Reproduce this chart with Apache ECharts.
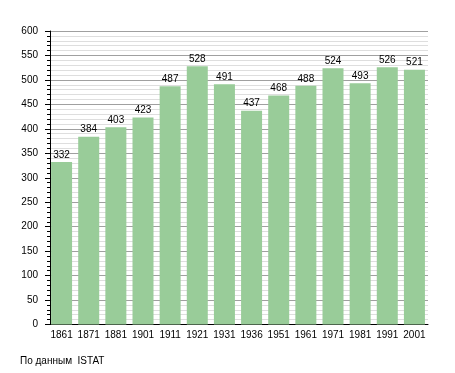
<!DOCTYPE html>
<html><head><meta charset="utf-8">
<script src="https://cdn.jsdelivr.net/npm/echarts@6/dist/echarts.min.js"></script>
<style>html,body{margin:0;padding:0;background:#fff}#c{width:455px;height:373px}</style>
</head><body><div id="c"></div>
<script>
const years = ['1861','1871','1881','1901','1911','1921','1931','1936','1951','1961','1971','1981','1991','2001'];
const population = [332,384,403,423,487,528,491,437,468,488,524,493,526,521];
const sourceNote = 'По данным  ISTAT';
const FONT = '"Liberation Sans", Arial, sans-serif';
const chart = echarts.init(document.getElementById('c'), null, {renderer:'canvas'});
chart.setOption({
  animation:false,
  backgroundColor:'#fff',
  title:{text:sourceNote,left:20,top:356,padding:0,textStyle:{fontFamily:FONT,fontSize:10,fontWeight:'normal',color:'#000'}},
  grid:{left:48,right:27,top:31,bottom:48.5,containLabel:false},
  xAxis:{type:'category',data:years,boundaryGap:true,
    axisLine:{show:true,lineStyle:{color:'#000',width:1}},
    axisTick:{show:false},
    axisLabel:{fontFamily:FONT,fontSize:10,color:'#000',margin:6,interval:0}},
  yAxis:{type:'value',min:0,max:600,interval:50,offset:-2,
    axisLine:{show:true,lineStyle:{color:'#000',width:1}},
    axisTick:{show:true,length:5,lineStyle:{color:'#000'}},
    minorTick:{show:true,splitNumber:5,length:3,lineStyle:{color:'#000'}},
    axisLabel:{fontFamily:FONT,fontSize:10,color:'#000',margin:12},
    splitLine:{show:true,lineStyle:{color:'#a0a0a0',width:1}},
    minorSplitLine:{show:true,lineStyle:{color:'#dedede',width:1}}},
  series:[{type:'bar',data:population,barWidth:21,
    itemStyle:{color:'#99cc99'},
    label:{show:true,position:'top',distance:2,fontFamily:FONT,fontSize:10,color:'#000'}}]
});
</script></body></html>
